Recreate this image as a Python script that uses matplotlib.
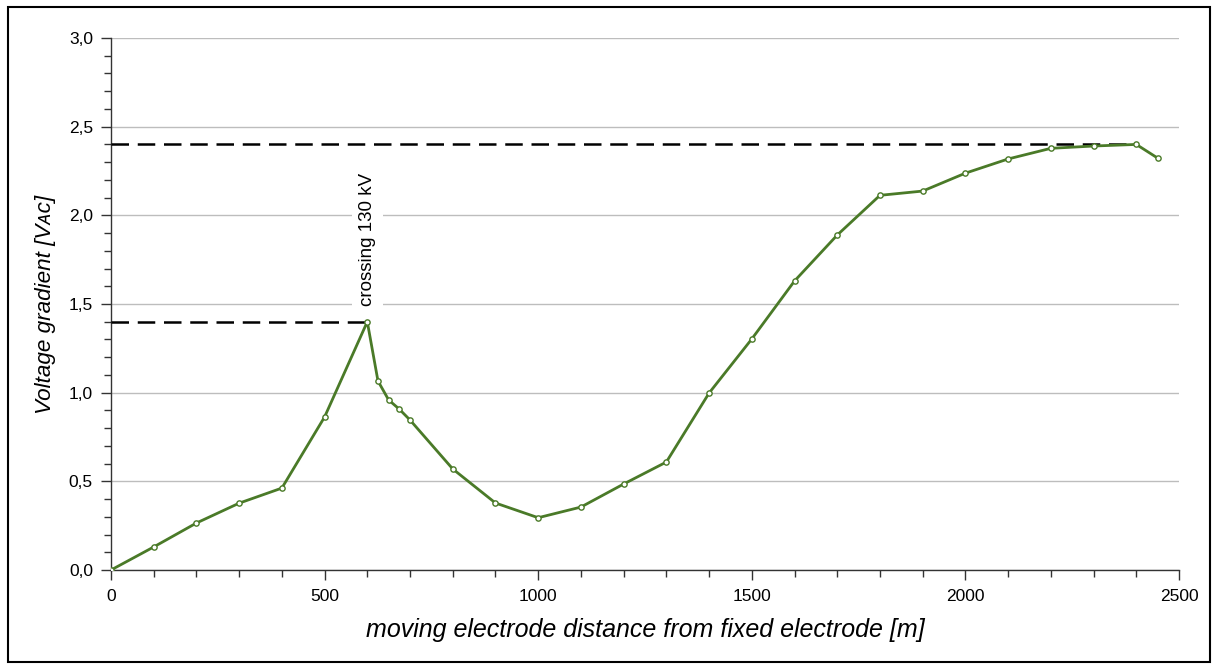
import matplotlib
matplotlib.use("Agg")
import matplotlib.pyplot as plt
from matplotlib.ticker import MultipleLocator, FuncFormatter
from matplotlib.patches import Rectangle

plt.rcParams['font.family'] = ['Liberation Sans', 'DejaVu Sans']

distance = [0, 100, 200, 300, 400, 500, 600, 625, 650, 675, 700, 800, 900, 1000,
            1100, 1200, 1300, 1400, 1500, 1600, 1700, 1800, 1900, 2000, 2100,
            2200, 2300, 2400, 2450]
voltage = [0.0, 0.13, 0.265, 0.377, 0.462, 0.863, 1.40, 1.066, 0.959, 0.907, 0.846,
           0.57, 0.378, 0.295, 0.355, 0.485, 0.609, 0.998, 1.303, 1.63, 1.889,
           2.113, 2.137, 2.238, 2.318, 2.378, 2.391, 2.40, 2.323]
ref_levels = [1.40, 2.40]
ref_ends = [600, 2400]
annotation = "crossing 130 kV"

fig = plt.figure(figsize=(12.18, 6.66), dpi=100)
ax = fig.add_axes([0.0911, 0.1441, 0.968 - 0.0911, 0.9429 - 0.1441])

for lvl, end in zip(ref_levels, ref_ends):
    ax.plot([0, end], [lvl, lvl], color='black', lw=1.8, dashes=(7, 3.5), zorder=3)

ax.plot(distance, voltage, color='#4a7a28', lw=2.0, marker='o', ms=3.8,
        mfc='white', mec='#4a7a28', mew=1.0, zorder=4)

ax.text(600, 1.49, annotation, rotation=90, ha='center', va='bottom', fontsize=13.5,
        bbox=dict(facecolor='white', edgecolor='none', pad=5), zorder=5)

ax.set_xlim(0, 2500)
ax.set_ylim(0, 3.0)
ax.xaxis.set_major_locator(MultipleLocator(500))
ax.xaxis.set_minor_locator(MultipleLocator(100))
ax.yaxis.set_major_locator(MultipleLocator(0.5))
ax.yaxis.set_minor_locator(MultipleLocator(0.1))
ax.yaxis.set_major_formatter(FuncFormatter(lambda v, p: f"{v:.1f}".replace('.', ',')))

ax.grid(axis='y', which='major', color='#bdbdbd', lw=1.0, zorder=0)
ax.set_axisbelow(True)
for s in ['top', 'right']:
    ax.spines[s].set_visible(False)
for s in ['left', 'bottom']:
    ax.spines[s].set_color('#333333')
    ax.spines[s].set_linewidth(1.0)
ax.tick_params(which='both', direction='out', color='#333333', labelsize=12.5, width=1.0)
ax.tick_params(which='major', length=7)
ax.tick_params(which='minor', length=5)
ax.tick_params(axis='x', pad=7)
ax.tick_params(axis='y', pad=6)

ax.set_xlabel("moving electrode distance from fixed electrode [m]", fontsize=18,
              style='italic', labelpad=10)
ax.set_ylabel("Voltage gradient [V\u1d00\u1d04]", fontsize=16.2, style='italic', labelpad=9)

fig.patches.append(Rectangle((8 / 1218, 4 / 666), 1202 / 1218, 655 / 666, transform=fig.transFigure,
                             fill=False, edgecolor='black', lw=1.5))

fig.savefig("out.png", dpi=100)
